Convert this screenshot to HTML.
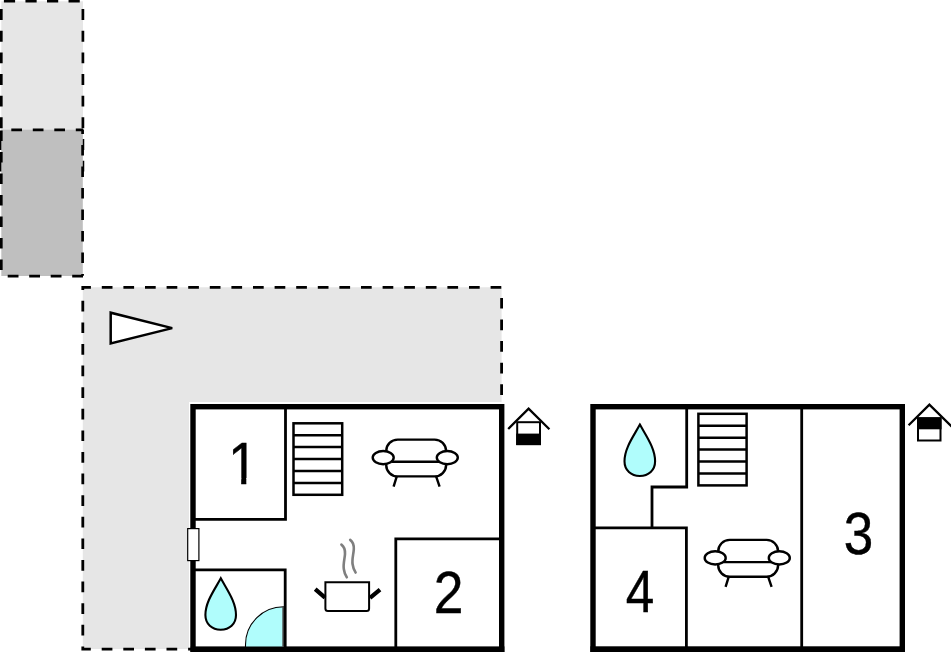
<!DOCTYPE html>
<html>
<head>
<meta charset="utf-8">
<title>Floor plan</title>
<style>
html,body{margin:0;padding:0;background:#fff;}
body{width:951px;height:652px;overflow:hidden;}
svg{display:block;}
text{font-family:"Liberation Sans",sans-serif;fill:#000;stroke:#000;stroke-width:0.4px;}
</style>
</head>
<body>
<svg width="951" height="652" viewBox="0 0 951 652">
<defs><clipPath id="c1"><rect x="225" y="435" width="30" height="43"/><rect x="241.2" y="477" width="5.1" height="8"/></clipPath></defs>
<rect width="951" height="652" fill="#fff"/>

<!-- light box (top-left) -->
<g fill="none" stroke="#000" stroke-width="2.7">
<rect x="1.3" y="1.3" width="81.7" height="174" fill="#e6e6e6" stroke="none"/>
<path d="M1.3,1.2H83" stroke-dasharray="11.2 10.35" stroke-dashoffset="-2.6"/>
<path d="M82.9,1.3V175" stroke-dasharray="10.9 10.75" stroke-dashoffset="-7.8"/>
<path d="M1.3,1.3V175" stroke-dasharray="10.9 10.75" stroke-dashoffset="-7.8"/>
<!-- dark box -->
<rect x="1.3" y="129.7" width="81.5" height="146.3" fill="#bfbfbf" stroke="none"/>
<path d="M1.3,129.8H83" stroke-dasharray="10.7 10.8" stroke-dashoffset="-10"/>
<path d="M82.6,129.5V275.8" stroke-dasharray="10.6 10.9" stroke-dashoffset="6"/>
<path d="M1.3,129.5V275.8" stroke-dasharray="10.4 11.1" stroke-dashoffset="-1"/>
<path d="M83,276.1H1.3" stroke-dasharray="10.8 10.7" stroke-dashoffset="0"/>
</g>

<!-- big terrace -->
<path d="M82.8,287.3H501.6V406H193V649.1H82.8Z" fill="#e6e6e6"/>
<!-- triangle -->
<path d="M110.7,312.7V343.5L172.2,328.1Z" fill="#fff" stroke="#000" stroke-width="2.5" stroke-miterlimit="3"/>

<!-- PLAN 1 -->
<rect x="189" y="402" width="316" height="250" fill="#fff"/>
<path d="M193,649.1H82.8V287.3H501.6V404" fill="none" stroke="#000" stroke-width="2.8" stroke-dasharray="10.7 10.9" stroke-dashoffset="5.8"/>
<rect x="193" y="406.7" width="308.7" height="245" fill="#fff" stroke="#000" stroke-width="5.4"/>
<rect x="190.7" y="646.4" width="313.7" height="6" fill="#000"/>
<g fill="none" stroke="#000" stroke-width="2.8">
<path d="M285.5,408V519.4H195"/>
<path d="M195,569.8H285.2V648"/>
<path d="M395.8,648V538.9H500"/>
</g>
<!-- door on left wall -->
<rect x="187.7" y="528.6" width="11.2" height="32" fill="#fff" stroke="#000" stroke-width="1.2"/>
<!-- stairs 1 -->
<g fill="none" stroke="#000" stroke-width="2.5">
<rect x="293.5" y="423.3" width="48.7" height="71.5"/>
<path d="M293.5,435.2h48.7M293.5,447.1h48.7M293.5,459.1h48.7M293.5,471h48.7M293.5,482.9h48.7"/>
</g>
<!-- sofa 1 -->
<g fill="none" stroke="#000" stroke-width="2.4">
<rect x="386.2" y="439.6" width="59.9" height="36.8" rx="11.5" ry="11.5" fill="#fff"/>
<path d="M392,461.8H439"/>
<ellipse cx="383.2" cy="457.6" rx="10.5" ry="6.6" fill="#fff"/>
<ellipse cx="447.3" cy="457.6" rx="10.5" ry="6.6" fill="#fff"/>
<path d="M396.7,476.6L393.6,486.6M436.2,476.6L439.6,486.6"/>
</g>
<!-- drop 1 -->
<path d="M220.8,578.3 C227.5,590.5 236,602 236,615 C236,624 229.5,629.7 220.7,629.7 C212,629.7 205.4,624 205.4,615 C205.4,602 214.1,590.5 220.8,578.3Z" fill="#b0fdfc" stroke="#000" stroke-width="2.1" stroke-linejoin="miter"/>
<!-- door swing -->
<path d="M283.5,644.7V606.7A38,38 0 0 0 245.5,644.7V647H283.5Z" fill="#b0fdfc" stroke="#000" stroke-width="1.1"/>
<path d="M283,606.7V647" stroke="#555" stroke-width="1.4"/>
<!-- pot -->
<g fill="none" stroke="#000">
<path d="M325.4,582.3H369.1V608.5Q369.1,611 366.6,611H327.9Q325.4,611 325.4,608.5Z" stroke-width="2" fill="#fff"/>
<path d="M315.2,589.1L325,597.6M380,589.7L370,597.8" stroke-width="4.2"/>
<path d="M341.4,544.6C344,546.5 345.2,550 345,554C344.7,559 343,564 343.8,569C344.3,572.5 345.5,575.5 346.8,577.3" stroke="#7f7f7f" stroke-width="2.6" stroke-linecap="round"/>
<path transform="translate(8.8,-4.75)" d="M341.4,544.6C344,546.5 345.2,550 345,554C344.7,559 343,564 343.8,569C344.3,572.5 345.5,575.5 346.8,577.3" stroke="#7f7f7f" stroke-width="2.6" stroke-linecap="round"/>
</g>
<!-- house icon 1 -->
<g>
<path d="M508.2,429L528.6,408.6L549.4,429.2" fill="none" stroke="#000" stroke-width="2.3"/>
<rect x="517.2" y="422.2" width="22.8" height="21.9" fill="#fff" stroke="#000" stroke-width="2"/>
<rect x="516.2" y="433.6" width="24.8" height="11.5" fill="#000"/>
</g>
<g clip-path="url(#c1)"><text transform="translate(227.95,483.8) scale(0.905,1)" font-size="59.3">1</text></g>
<text transform="translate(433.8,612.5) scale(0.90,1)" font-size="59.3">2</text>

<!-- PLAN 2 -->
<rect x="593" y="406.7" width="309.3" height="245" fill="#fff" stroke="#000" stroke-width="5.4"/>
<rect x="590.4" y="646.3" width="314.6" height="6" fill="#000"/>
<g fill="none" stroke="#000" stroke-width="2.8">
<path d="M686.7,408V487H652V527.8"/>
<path d="M595,527.8H686.4V648"/>
<path d="M801.7,408V648"/>
</g>
<!-- stairs 2 -->
<g fill="none" stroke="#000" stroke-width="2.5">
<rect x="698.4" y="413.8" width="48.2" height="71.6"/>
<path d="M698.4,425.7h48.2M698.4,437.7h48.2M698.4,449.6h48.2M698.4,461.5h48.2M698.4,473.5h48.2"/>
</g>
<g transform="translate(332,100.3)" fill="none" stroke="#000" stroke-width="2.4">
<rect x="386.2" y="439.6" width="59.9" height="36.8" rx="11.5" ry="11.5" fill="#fff"/>
<path d="M392,461.8H439"/>
<ellipse cx="383.2" cy="457.6" rx="10.5" ry="6.6" fill="#fff"/>
<ellipse cx="447.3" cy="457.6" rx="10.5" ry="6.6" fill="#fff"/>
<path d="M396.7,476.6L393.6,486.6M436.2,476.6L439.6,486.6"/>
</g>
<path transform="translate(419.1,-153.7)" d="M220.8,578.3 C227.5,590.5 236,602 236,615 C236,624 229.5,629.7 220.7,629.7 C212,629.7 205.4,624 205.4,615 C205.4,602 214.1,590.5 220.8,578.3Z" fill="#b0fdfc" stroke="#000" stroke-width="2.1" stroke-linejoin="miter"/>
<!-- house icon 2 -->
<path d="M908.6,425.2L929.4,404.6L952,426.8" fill="none" stroke="#000" stroke-width="2.3"/>
<rect x="918" y="418.3" width="22.5" height="22.2" fill="#fff" stroke="#000" stroke-width="2"/>
<rect x="917" y="417.3" width="24.5" height="12" fill="#000"/>
<text transform="translate(625.8,612.3) scale(0.865,1)" font-size="59.3">4</text>
<text transform="translate(843.8,553.7) scale(0.895,1)" font-size="59.3">3</text>
</svg>
</body>
</html>
